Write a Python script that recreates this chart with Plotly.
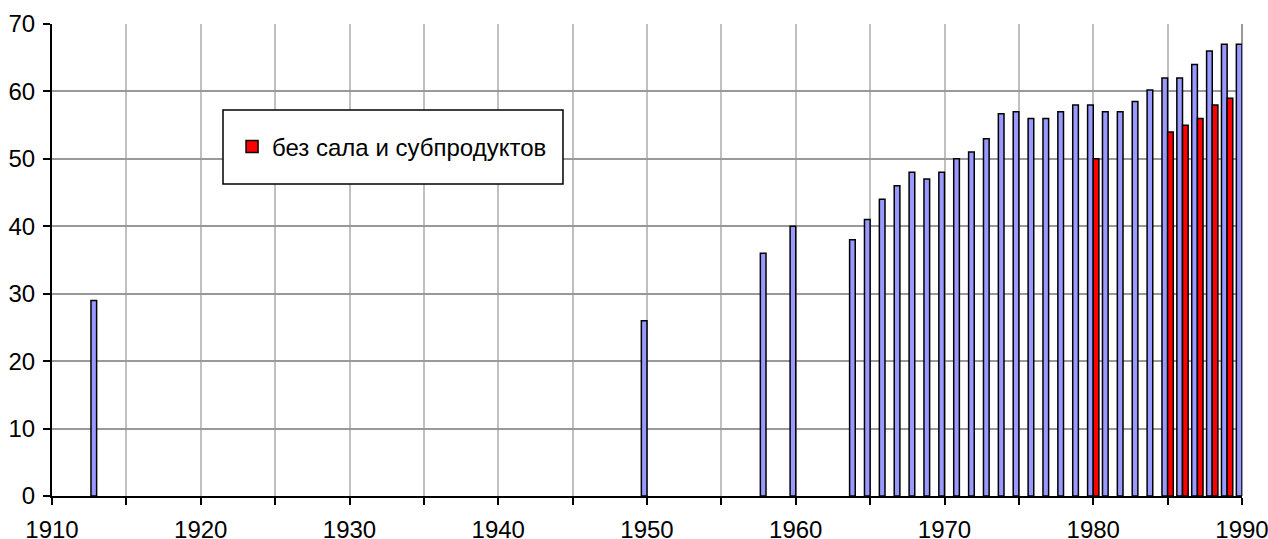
import plotly.graph_objects as go

# ---- data ----
years_total = [1913, 1950, 1958, 1960, 1964, 1965, 1966, 1967, 1968, 1969, 1970,
               1971, 1972, 1973, 1974, 1975, 1976, 1977, 1978, 1979, 1980,
               1981, 1982, 1983, 1984, 1985, 1986, 1987, 1988, 1989, 1990]
meat_total = [29, 26, 36, 40, 38, 41, 44, 46, 48, 47, 48,
              50, 51, 53, 56.7, 57, 56, 56, 57, 58, 58,
              57, 57, 58.5, 60.2, 62, 62, 64, 66, 67, 67]

years_lean = [1980, 1985, 1986, 1987, 1988, 1989]
meat_lean = [50, 54, 55, 56, 58, 59]

lean_name = "без сала и субпродуктов"

x_tickvals = list(range(1910, 1991, 5))
x_ticktext = [str(v) if v % 10 == 0 else "" for v in x_tickvals]
y_tickvals = [0, 10, 20, 30, 40, 50, 60, 70]

FONT = "Liberation Sans, Arial, sans-serif"
FS = 24
BAR_W = 0.38

fig = go.Figure()
fig.add_trace(go.Bar(
    x=years_total, y=meat_total, name="всего",
    width=BAR_W, offset=-BAR_W,
    marker=dict(color="#9999FF", line=dict(color="black", width=1.5)),
    showlegend=False,
))
fig.add_trace(go.Bar(
    x=years_lean, y=meat_lean, name=lean_name,
    width=BAR_W, offset=0,
    marker=dict(color="#FF0000", line=dict(color="black", width=1.5)),
))

# legend frame (white box with black border)
fig.add_shape(type="rect", xref="paper", yref="paper",
              x0=0.1437, x1=0.4294, y0=0.661, y1=0.8178,
              line=dict(color="black", width=1.5), fillcolor="white", layer="above")
# right frame edge
fig.add_shape(type="line", xref="paper", yref="paper",
              x0=1, x1=1, y0=0, y1=1,
              line=dict(color="#999999", width=2), layer="below")

fig.update_layout(
    width=1268, height=539,
    margin=dict(l=52, r=26, t=24, b=43, autoexpand=False),
    paper_bgcolor="white", plot_bgcolor="white",
    barmode="overlay",
    font=dict(family=FONT, size=FS, color="black"),
    legend=dict(x=0.1513, y=0.7394, xanchor="left", yanchor="middle",
                bgcolor="rgba(0,0,0,0)", borderwidth=0,
                font=dict(family=FONT, size=FS, color="black")),
    xaxis=dict(range=[1910, 1990], tickmode="array", tickvals=x_tickvals,
               ticktext=x_ticktext, showgrid=True, gridcolor="#C0C0C0", gridwidth=1.5,
               showline=True, linecolor="black", linewidth=2,
               ticks="outside", ticklen=7, tickwidth=1.5, tickcolor="black",
               zeroline=False, ticklabelstandoff=4, automargin=False,
               ticklabeloverflow="allow"),
    yaxis=dict(range=[0, 70], tickmode="array", tickvals=y_tickvals,
               showgrid=True, gridcolor="#999999", gridwidth=1.5,
               showline=True, linecolor="black", linewidth=2,
               ticks="outside", ticklen=7, tickwidth=1.5, tickcolor="black",
               zeroline=False, ticklabelstandoff=3, automargin=False,
               ticklabeloverflow="allow"),
)

# remove the default page margin so the figure fills the window exactly
fig.write_html(
    "out.html",
    config={"displayModeBar": False},
    post_script="document.body.style.margin='0';document.body.style.overflow='hidden';",
)
